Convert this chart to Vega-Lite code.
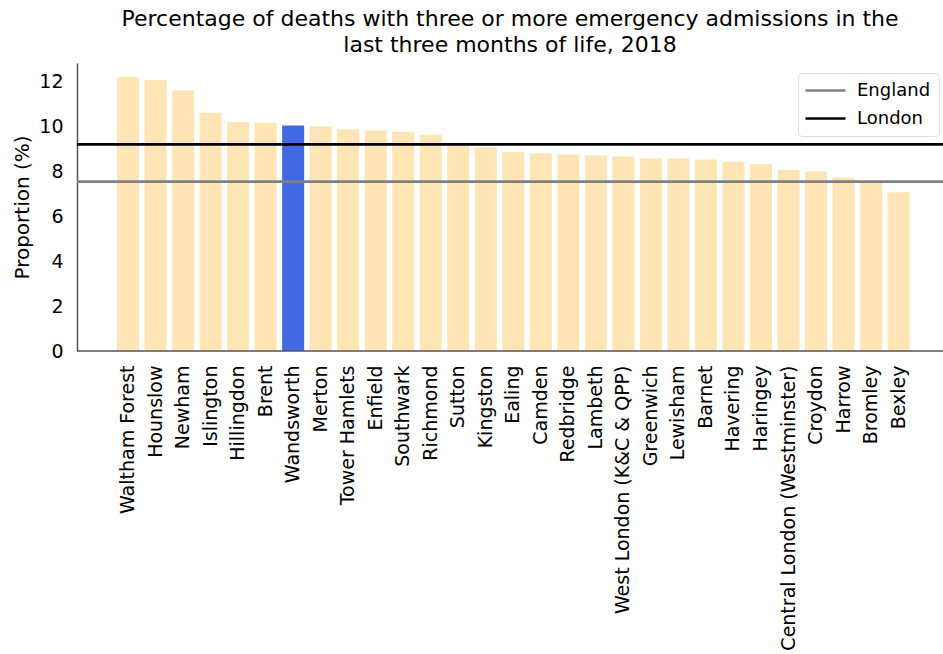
{
  "$schema": "https://vega.github.io/schema/vega-lite/v6.json",
  "autosize": {"type": "none"},
  "width": 866,
  "height": 288,
  "padding": {"left": 77, "top": 63, "right": 0, "bottom": 303},
  "background": "white",
  "config": {
    "font": "DejaVu Sans",
    "view": {"stroke": null},
    "axis": {"grid": false, "ticks": false, "labelFont": "DejaVu Sans", "titleFont": "DejaVu Sans", "labelColor": "#000", "titleColor": "#000", "domainColor": "#555", "domainWidth": 1.5}
  },
  "title": {
    "text": ["Percentage of deaths with three or more emergency admissions in the", "last three months of life, 2018"],
    "font": "DejaVu Sans",
    "fontSize": 22,
    "fontWeight": "normal",
    "color": "#000",
    "anchor": "middle",
    "frame": "group",
    "lineHeight": 26,
    "offset": 6
  },
  "datasets": {
    "boroughs": [
      {"borough": "Waltham Forest", "value": 12.19},
      {"borough": "Hounslow", "value": 12.04},
      {"borough": "Newham", "value": 11.59},
      {"borough": "Islington", "value": 10.59},
      {"borough": "Hillingdon", "value": 10.17},
      {"borough": "Brent", "value": 10.14},
      {"borough": "Wandsworth", "value": 10.02},
      {"borough": "Merton", "value": 9.98},
      {"borough": "Tower Hamlets", "value": 9.84},
      {"borough": "Enfield", "value": 9.80},
      {"borough": "Southwark", "value": 9.74},
      {"borough": "Richmond", "value": 9.61},
      {"borough": "Sutton", "value": 9.13},
      {"borough": "Kingston", "value": 9.06},
      {"borough": "Ealing", "value": 8.84},
      {"borough": "Camden", "value": 8.79},
      {"borough": "Redbridge", "value": 8.73},
      {"borough": "Lambeth", "value": 8.69},
      {"borough": "West London (K&C & QPP)", "value": 8.64},
      {"borough": "Greenwich", "value": 8.56},
      {"borough": "Lewisham", "value": 8.56},
      {"borough": "Barnet", "value": 8.51},
      {"borough": "Havering", "value": 8.41},
      {"borough": "Haringey", "value": 8.30},
      {"borough": "Central London (Westminster)", "value": 8.05},
      {"borough": "Croydon", "value": 7.98},
      {"borough": "Harrow", "value": 7.71},
      {"borough": "Bromley", "value": 7.55},
      {"borough": "Bexley", "value": 7.06}
    ],
    "refs": [
      {"line": "England", "value": 7.53},
      {"line": "London", "value": 9.18}
    ],
    "baseline": [
      {"value": 0}
    ]
  },
  "layer": [
    {
      "data": {"name": "boroughs"},
      "mark": {"type": "bar"},
      "encoding": {
        "x": {
          "field": "borough", "type": "nominal", "sort": null, "title": null,
          "scale": {"paddingInner": 0.2, "paddingOuter": 0, "range": [40, 832.6]},
          "axis": {"domain": false, "labelAngle": -90, "labelAlign": "right", "labelBaseline": "middle", "labelFontSize": 19, "labelPadding": 14, "labelLimit": 400}
        },
        "y": {
          "field": "value", "type": "quantitative",
          "scale": {"domain": [0, 12.8], "nice": false},
          "axis": {"values": [0, 2, 4, 6, 8, 10, 12], "title": "Proportion (%)", "titleFontSize": 20, "titleFontWeight": "normal", "labelFontSize": 19, "labelPadding": 14, "titlePadding": 6}
        },
        "color": {
          "condition": {"test": "datum.borough === 'Wandsworth'", "value": "#4169E1"},
          "value": "#FFE4B5"
        }
      }
    },
    {
      "data": {"name": "baseline"},
      "mark": {"type": "rule", "color": "#555", "strokeWidth": 1.5},
      "encoding": {"y": {"field": "value", "type": "quantitative"}}
    },
    {
      "data": {"name": "refs"},
      "mark": {"type": "rule", "strokeWidth": 2.7},
      "encoding": {
        "y": {"field": "value", "type": "quantitative"},
        "color": {
          "field": "line", "type": "nominal",
          "scale": {"domain": ["England", "London"], "range": ["#808080", "#000000"]},
          "legend": {
            "title": null, "orient": "none", "legendX": 721, "legendY": 10,
            "symbolType": "M-2.5,0H2.5", "symbolSize": 256, "symbolStrokeWidth": 2.7, "symbolOffset": 10,
            "labelFontSize": 18, "labelFont": "DejaVu Sans", "labelColor": "#000", "labelOffset": 22,
            "fillColor": "white", "strokeColor": "#dddddd", "cornerRadius": 4, "padding": 8, "rowPadding": 9
          }
        }
      }
    }
  ]
}
